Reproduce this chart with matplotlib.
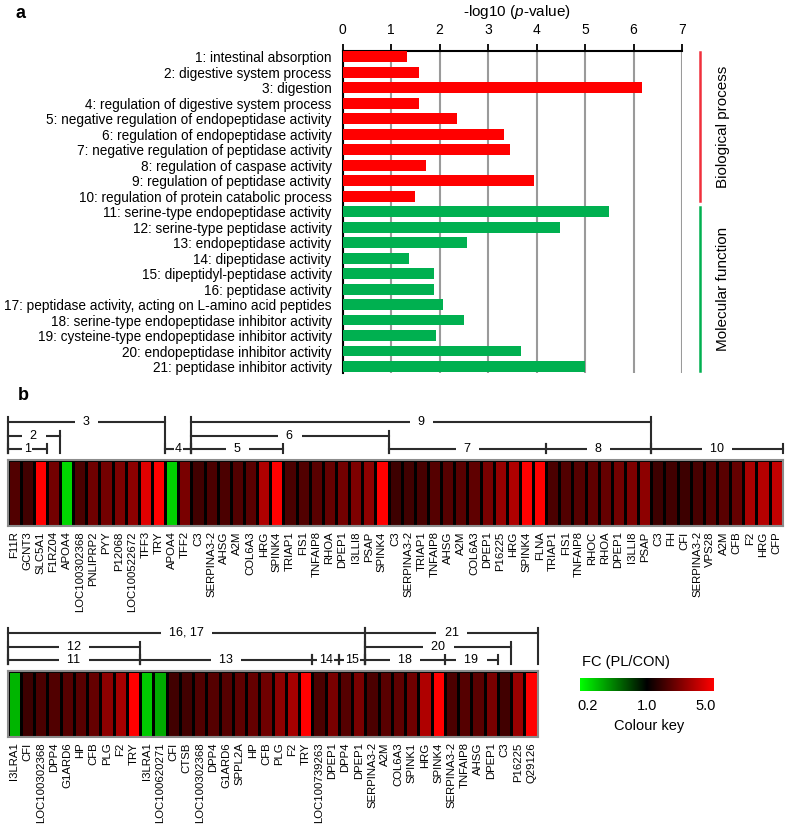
import numpy as np
import matplotlib
matplotlib.use("Agg")
import matplotlib.pyplot as plt
import matplotlib.transforms as mtransforms
from matplotlib.colors import LinearSegmentedColormap, LogNorm

plt.rcParams['font.family'] = ['Liberation Sans', 'DejaVu Sans']
plt.rcParams['mathtext.fontset'] = 'custom'
plt.rcParams['mathtext.rm'] = 'Liberation Sans'
plt.rcParams['mathtext.it'] = 'Liberation Sans:italic'

W, H = 787, 825

# ---- panel a: GO enrichment ----
go_terms = [
    "1: intestinal absorption",
    "2: digestive system process",
    "3: digestion",
    "4: regulation of digestive system process",
    "5: negative regulation of endopeptidase activity",
    "6: regulation of endopeptidase activity",
    "7: negative regulation of peptidase activity",
    "8: regulation of caspase activity",
    "9: regulation of peptidase activity",
    "10: regulation of protein catabolic process",
    "11: serine-type endopeptidase activity",
    "12: serine-type peptidase activity",
    "13: endopeptidase activity",
    "14: dipeptidase activity",
    "15: dipeptidyl-peptidase activity",
    "16: peptidase activity",
    "17: peptidase activity, acting on L-amino acid peptides",
    "18: serine-type endopeptidase inhibitor activity",
    "19: cysteine-type endopeptidase inhibitor activity",
    "20: endopeptidase inhibitor activity",
    "21: peptidase inhibitor activity",
]
go_logp = [1.32, 1.57, 6.18, 1.57, 2.35, 3.32, 3.45, 1.72, 3.95, 1.50,
           5.50, 4.48, 2.56, 1.37, 1.88, 1.88, 2.07, 2.50, 1.92, 3.67, 5.00]
go_class = ["Biological process"] * 10 + ["Molecular function"] * 11
class_colors = {"Biological process": "#ff0000", "Molecular function": "#00b050"}
class_line_colors = {"Biological process": "#f0303c", "Molecular function": "#00b050"}

# ---- panel b: fold-change heatmaps ----
row1_genes = ["F11R", "GCNT3", "SLC5A1", "F1RZ04", "APOA4", "LOC100302368", "PNLIPRP2",
              "PYY", "P12068", "LOC100522672", "TFF3", "TRY", "APOA4", "TFF2", "C3",
              "SERPINA3-2", "AHSG", "A2M", "COL6A3", "HRG", "SPINK4", "TRIAP1", "FIS1",
              "TNFAIP8", "RHOA", "DPEP1", "I3LLI8", "PSAP", "SPINK4", "C3", "SERPINA3-2",
              "TRIAP1", "TNFAIP8", "AHSG", "A2M", "COL6A3", "DPEP1", "P16225", "HRG",
              "SPINK4", "FLNA", "TRIAP1", "FIS1", "TNFAIP8", "RHOC", "RHOA", "DPEP1",
              "I3LLI8", "PSAP", "C3", "FH", "CFI", "SERPINA3-2", "VPS28", "A2M", "CFB",
              "F2", "HRG", "CFP"]
row1_fc = [1.66, 1.51, 5.0, 2.07, 0.26, 1.61, 2.00, 2.07, 2.20, 2.42, 4.14, 5.0, 0.27,
           2.13, 1.51, 1.61, 1.61, 1.66, 1.76, 3.02, 5.0, 1.61, 1.66, 1.76, 1.88, 2.07,
           2.20, 2.42, 5.0, 1.46, 1.51, 1.56, 1.71, 1.71, 1.76, 1.82, 2.13, 2.58, 3.02,
           5.0, 5.0, 1.61, 1.66, 1.71, 1.82, 1.88, 2.07, 2.20, 2.42, 1.46, 1.51, 1.46,
           1.56, 1.71, 1.76, 1.88, 2.92, 3.11, 3.42]
# (label, first cell, last cell, level)  level 1 = nearest to the heatmap
row1_brackets = [("3", 1, 12, 3), ("9", 15, 49, 3),
                 ("2", 1, 4, 2), ("6", 15, 29, 2),
                 ("1", 1, 3, 1), ("4", 13, 14, 1), ("5", 15, 21, 1),
                 ("7", 30, 41, 1), ("8", 42, 49, 1), ("10", 50, 59, 1)]

row2_genes = ["I3LRA1", "CFI", "LOC100302368", "DPP4", "G1ARD6", "HP", "CFB", "PLG", "F2",
              "TRY", "I3LRA1", "LOC100620271", "CFI", "CTSB", "LOC100302368", "DPP4",
              "G1ARD6", "SPPL2A", "HP", "CFB", "PLG", "F2", "TRY", "LOC100739263", "DPEP1",
              "DPP4", "DPEP1", "SERPINA3-2", "A2M", "COL6A3", "SPINK1", "HRG", "SPINK4",
              "SERPINA3-2", "TNFAIP8", "AHSG", "DPEP1", "C3", "P16225", "Q29126"]
row2_fc = [0.32, 1.46, 1.61, 1.66, 1.71, 1.76, 1.88, 2.42, 2.83, 5.0, 0.28, 0.34, 1.51,
           1.51, 1.66, 1.71, 1.71, 1.82, 1.88, 2.00, 2.42, 2.83, 5.0, 1.61, 2.13, 1.71,
           2.13, 1.61, 1.76, 1.82, 2.00, 3.02, 5.0, 1.61, 1.71, 1.76, 2.13, 1.51, 2.58, 5.0]
row2_brackets = [("16, 17", 1, 27, 3), ("21", 28, 40, 3),
                 ("12", 1, 10, 2), ("20", 28, 38, 2),
                 ("11", 1, 10, 1), ("13", 11, 23, 1), ("14", 24, 25, 1),
                 ("15", 26, 27, 1), ("18", 28, 33, 1), ("19", 34, 37, 1)]

key_ticks = [0.2, 1.0, 5.0]
key_labels = ["0.2", "1.0", "5.0"]

cmap = LinearSegmentedColormap.from_list("gkr", ["#00ff00", "#000000", "#ff0000"])
norm = LogNorm(vmin=0.2, vmax=5.0)


def px_axes(fig, l, t, r, b):
    return fig.add_axes([l / W, 1 - b / H, (r - l) / W, (b - t) / H])


fig = plt.figure(figsize=(W / 100, H / 100), dpi=100)

# ---------------- panel a ----------------
ax = px_axes(fig, 342.7, 50.7, 682, 373.3)
pos = np.arange(1, len(go_terms) + 1)
ax.barh(pos, go_logp, height=0.69, color=[class_colors[c] for c in go_class], zorder=3)
ax.set_xlim(0, 7)
ax.set_ylim(21.43, 0.61)
ax.set_xticks(range(0, 8))
ax.xaxis.tick_top()
ax.xaxis.grid(True, color="#9a9a9a", lw=1.5, zorder=0)
ax.set_axisbelow(True)
ax.tick_params(axis="x", direction="out", length=5, width=1.3, labelsize=10, pad=5)
ax.set_yticks(pos, go_terms, fontsize=9.8)
ax.tick_params(axis="y", length=0, pad=8)
for s in ("right", "bottom"):
    ax.spines[s].set_visible(False)
ax.spines["top"].set_linewidth(1.5)
ax.spines["left"].set_linewidth(1.5)
fig.text(517 / W, 1 - 12 / H, r"-log10 ($\it{p}$-value)", ha="center", va="center", fontsize=11)
fig.text(16 / W, 1 - 13 / H, "a", ha="left", va="center", fontsize=13, fontweight="bold")

trans = mtransforms.blended_transform_factory(ax.transAxes, ax.transData)
for cls in ("Biological process", "Molecular function"):
    idx = [p for p, c in zip(pos, go_class) if c == cls]
    y0, y1 = min(idx) - 0.3, max(idx) + 0.3
    ax.plot([1.053, 1.053], [y0, y1], color=class_line_colors[cls], lw=1.8,
            transform=trans, clip_on=False)
    ax.text(1.12, (y0 + y1) / 2, cls, rotation=90, ha="center", va="center",
            fontsize=11, transform=trans, clip_on=False)

# ---------------- panel b ----------------
fig.text(18 / W, 1 - 395 / H, "b", ha="left", va="center", fontsize=13, fontweight="bold")

level_y = {1: 11, 2: 24, 3: 38}
base_y = 7


def heat_row(l, t, r, b, genes, fc, brackets):
    n = len(genes)
    cell_px = (r - l) / n
    hx = px_axes(fig, l, t, r, b)
    hx.pcolormesh(np.arange(n + 1), [0, 1], np.array([fc]), cmap=cmap, norm=norm,
                  edgecolors="black", linewidth=0.8)
    hx.set_xlim(0, n)
    hx.set_ylim(0, 1)
    hx.set_yticks([])
    hx.set_xticks(np.arange(n) + 0.5, genes, rotation=90, fontsize=8.2)
    hx.tick_params(axis="x", length=0, pad=4)
    for s in hx.spines.values():
        s.set_color("#8c8c8c")
        s.set_linewidth(1.5)

    bx = px_axes(fig, l, t - 45, r, t)
    bx.set_xlim(0, n)
    bx.set_ylim(0, 45)
    bx.axis("off")
    for lab, s, e, lev in brackets:
        y = level_y[lev]
        x0, x1 = s - 1, e
        bx.plot([x0, x1], [y, y], color="#2b2b2b", lw=1.5, clip_on=False, zorder=1)
        for x in (x0, x1):
            bx.plot([x, x], [base_y, y + 5], color="#2b2b2b", lw=1.5, clip_on=False,
                    zorder=1)
        wide = (e - s + 1) * cell_px > 45
        txt = f"  {lab}  " if wide else lab
        bx.text((x0 + x1) / 2, y, txt, ha="center", va="center", fontsize=9, zorder=2,
                bbox=dict(boxstyle="square,pad=0.1", fc="white", ec="none"))


heat_row(7.5, 460, 782.7, 525.7, row1_genes, row1_fc, row1_brackets)
heat_row(7.5, 670.7, 537.7, 736.7, row2_genes, row2_fc, row2_brackets)

# colour key
kx = px_axes(fig, 580, 678, 713.3, 690.7)
grad = np.logspace(np.log10(0.2), np.log10(5.0), 256)
kx.imshow(grad[None, :], aspect="auto", cmap=cmap, norm=norm, extent=(-1.13, 1.13, 0, 1))
kx.set_xlim(-1.13, 1.13)
kx.set_xticks(np.log(key_ticks) / np.log(5.0), key_labels)
kx.set_yticks([])
kx.tick_params(axis="x", length=0, pad=6, labelsize=10.5)
for s in kx.spines.values():
    s.set_visible(False)
fig.text(581.7 / W, 1 - 661.7 / H, "FC (PL/CON)", ha="left", va="center", fontsize=10.5)
fig.text(649 / W, 1 - 726 / H, "Colour key", ha="center", va="center", fontsize=10.5)

fig.savefig("out.png", dpi=100)
